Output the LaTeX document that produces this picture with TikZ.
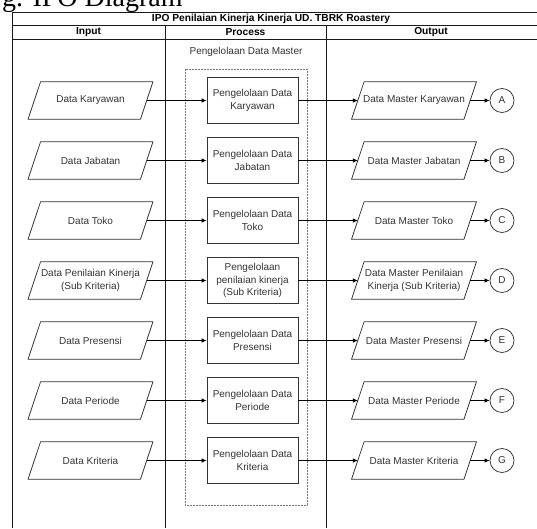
\documentclass[tikz,border=0pt]{standalone}
\usepackage{fontspec}
\setmainfont{Liberation Sans}
\newfontfamily\captionserif{Liberation Serif}
\usetikzlibrary{arrows.meta}
\definecolor{ink}{HTML}{333333}
\definecolor{rule}{HTML}{1A1A1A}
\begin{document}
\begin{tikzpicture}[x=1pt,y=1pt,
  every node/.style={font=\fontsize{10}{12.5}\selectfont, text=ink},
  dataio/.style={minimum width=112pt, minimum height=37pt, inner sep=0pt, align=center},
  ioline/.style={draw=ink, line width=0.75pt},
  procbox/.style={draw=ink, line width=0.75pt, minimum width=91pt, minimum height=46pt, inner sep=1pt, align=center},
  connector/.style={circle, draw=ink, line width=0.75pt, minimum size=24pt, inner sep=0pt},
  flow/.style={draw=black, line width=0.75pt, -{Latex[length=5pt,width=4.5pt]}},
  frame/.style={draw=rule, line width=0.8pt},
  head/.style={font=\bfseries\fontsize{10.2}{12}\selectfont, text=black},
]
\useasboundingbox (0,0) rectangle (537,-528);

% caption above the table (partly cut off by the page)
\node[anchor=base west, inner sep=0pt, text=black, font=\captionserif\fontsize{28}{30}\selectfont] (caption) at (2,-6) {g. IPO Diagram};

% table frame
\draw[frame] (12,-528) -- (12,-12) -- (540,-12);
\draw[frame] (12,-25) -- (540,-25);
\draw[frame] (12,-39) -- (540,-39);
\draw[frame] (165,-25) -- (165,-528);
\draw[frame] (326,-25) -- (326,-528);

\node[head] (title) at (271,-18.5) {IPO Penilaian Kinerja Kinerja UD. TBRK Roastery};
\node[head] (hin) at (88.5,-32) {Input};
\node[head] (hproc) at (245.5,-32) {Process};
\node[head] (hout) at (431,-32) {Output};

% master data group
\draw[ink!65, line width=0.9pt, dash pattern=on 1.6pt off 1.4pt] (185,-69) rectangle (307,-505);
\node (grp) at (246,-52) {Pengelolaan Data Master};

% rows
\foreach \k/\inp/\proc/\outp/\lbl in {
  0/{Data Karyawan}/{Pengelolaan Data\\Karyawan}/{Data Master Karyawan}/A,
  1/{Data Jabatan}/{Pengelolaan Data\\Jabatan}/{Data Master Jabatan}/B,
  2/{Data Toko}/{Pengelolaan Data\\Toko}/{Data Master Toko}/C,
  3/{Data Penilaian Kinerja\\(Sub Kriteria)}/{Pengelolaan\\penilaian kinerja\\(Sub Kriteria)}/{Data Master Penilaian\\Kinerja (Sub Kriteria)}/D,
  4/{Data Presensi}/{Pengelolaan Data\\Presensi}/{Data Master Presensi}/E,
  5/{Data Periode}/{Pengelolaan Data\\Periode}/{Data Master Periode}/F,
  6/{Data Kriteria}/{Pengelolaan Data\\Kriteria}/{Data Master Kriteria}/G}
{
  \pgfmathsetmacro{\yy}{-100.5-60*\k}
  \node[dataio] (in\k) at (90.5,\yy) {\inp};
  \node[procbox] (pr\k) at (252.5,\yy) {\proc};
  \node[dataio] (out\k) at (414,\yy) {\outp};
  \node[connector] (c\k) at (502,\yy) {\lbl};
  \foreach \n in {in\k,out\k}
    \draw[ioline] ([xshift=-6.25pt]\n.south west) -- ([xshift=-6.25pt]\n.south east)
      -- ([xshift=6.25pt]\n.north east) -- ([xshift=6.25pt]\n.north west) -- cycle;
  \draw[flow] (in\k.east) -- (pr\k.west);
  \draw[flow] (pr\k.east) -- (out\k.west);
  \draw[flow] (out\k.east) -- (c\k.west);
}
\end{tikzpicture}
\end{document}
